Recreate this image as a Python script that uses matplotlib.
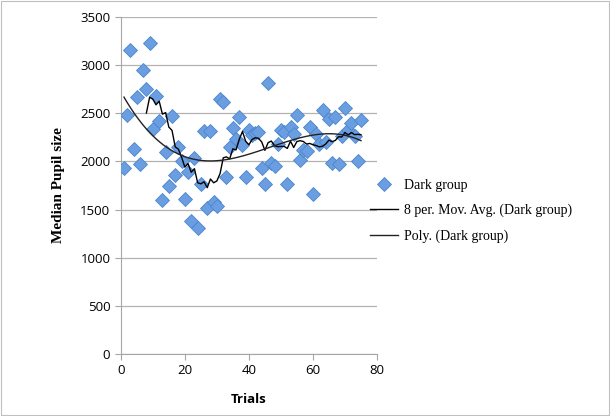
import numpy as np
import pandas as pd
import matplotlib.pyplot as plt
from matplotlib.patches import Rectangle

trials = np.arange(1, 76)
pupil = [1930, 2480, 3155, 2125, 2670, 1975, 2945, 2750, 3230, 2340,
         2675, 2420, 1600, 2100, 1745, 2470, 1860, 2150, 2000, 1605,
         1890, 1385, 2040, 1305, 1765, 2320, 1515, 2320, 1580, 1535,
         2650, 2620, 1840, 2155, 2350, 2235, 2465, 2175, 1840, 2330,
         2275, 2300, 2305, 1935, 1765, 2810, 1980, 1950, 2180, 2325,
         2310, 1765, 2360, 2290, 2480, 2015, 2118, 2110, 2360, 1660,
         2290, 2180, 2535, 2200, 2440, 1980, 2465, 1970, 2260, 2560,
         2330, 2400, 2265, 2005, 2430]
yticks = [0, 500, 1000, 1500, 2000, 2500, 3000, 3500]
xticks = [0, 20, 40, 60, 80]

pupil = np.array(pupil, dtype=float)
ma = pd.Series(pupil).rolling(8).mean().values
coef = np.polyfit(trials, pupil, 3)
xp = np.linspace(1, 75, 200)
yp = np.polyval(coef, xp)

fig = plt.figure(figsize=(6.1, 4.16), dpi=100)
ax = fig.add_axes([0.198, 0.149, 0.42, 0.81])
fig.patches.append(Rectangle((0.002, 0.003), 0.996, 0.994, transform=fig.transFigure,
                             fill=False, edgecolor='#bfbfbf', lw=0.8))

ax.plot(trials, pupil, 'D', ms=7.5, mfc='#6a9ee0', mec='#4a86cf', mew=0.6,
        label='Dark group', zorder=3)
ax.plot(trials, ma, color='black', lw=1.0, label='8 per. Mov. Avg. (Dark group)', zorder=4)
ax.plot(xp, yp, color='#222222', lw=1.0, label='Poly. (Dark group)', zorder=4)

ax.set_xlim(0, 80)
ax.set_ylim(0, 3500)
ax.set_xticks(xticks)
ax.set_yticks(yticks)
ax.grid(axis='y', color='#b3b3b3', lw=0.9)
ax.set_axisbelow(True)
for s in ['top', 'right']:
    ax.spines[s].set_visible(False)
for s in ['left', 'bottom']:
    ax.spines[s].set_color('#a6a6a6')
ax.tick_params(colors='#a6a6a6', labelcolor='black', labelsize=9.5, length=4)
for lab in ax.get_xticklabels() + ax.get_yticklabels():
    lab.set_family('Open Sans')

ax.set_xlabel('Trials', fontfamily='Open Sans', fontweight='bold', fontsize=9.5, labelpad=11)
ax.set_ylabel('Median Pupil size', fontfamily='Liberation Serif', fontweight='bold', fontsize=11,
              labelpad=11)

leg = ax.legend(loc='center left', bbox_to_anchor=(0.972, 0.425), frameon=False,
                prop={'family': 'Liberation Serif', 'size': 10}, handlelength=2.0,
                handletextpad=0.45, borderpad=0, borderaxespad=0,
                labelspacing=0.85)

fig.savefig('out.png', dpi=100)
